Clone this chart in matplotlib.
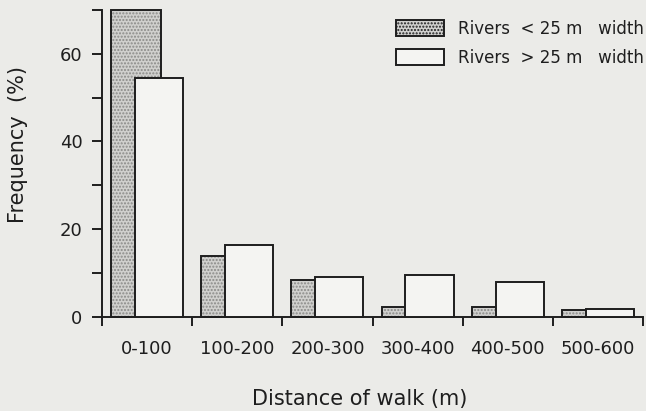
"""Frequency of walk distances for narrow and wide rivers."""
import numpy as np
import matplotlib
matplotlib.use("Agg")
import matplotlib.pyplot as plt
from matplotlib.patches import Patch

# Data
categories = ["0-100", "100-200", "200-300", "300-400", "400-500", "500-600"]
narrow_rivers = [70.0, 13.9, 8.4, 2.1, 2.2, 1.5]   # rivers < 25 m width
wide_rivers = [54.4, 16.4, 9.0, 9.6, 7.9, 1.8]     # rivers > 25 m width

BG = "#ebebe8"
INK = "#1e1e1e"
STIPPLE_FACE = "#d0d0ce"
STIPPLE_DOT = "#8a8a88"
WHITE_FACE = "#f4f4f2"

plt.rcParams["font.family"] = ["DejaVu Sans"]
plt.rcParams["hatch.linewidth"] = 1.0

fig = plt.figure(figsize=(6.46, 4.11), dpi=100, facecolor=BG)
ax = fig.add_axes([102 / 646, 94.3 / 411, 541 / 646, 306.7 / 411])
ax.set_facecolor(BG)

x = np.arange(len(categories))

# Stippled bars: dotted fill first, then the black outline on top
ax.bar(x + 0.1, narrow_rivers, width=0.55, align="edge", color=STIPPLE_FACE,
       edgecolor=STIPPLE_DOT, hatch=".....", linewidth=0, zorder=2,
       clip_on=False)
ax.bar(x + 0.1, narrow_rivers, width=0.55, align="edge", fill=False,
       edgecolor=INK, linewidth=1.4, zorder=3, clip_on=False)

# White bars overlap the stippled ones
ax.bar(x + 0.365, wide_rivers, width=0.535, align="edge", color=WHITE_FACE,
       edgecolor=INK, linewidth=1.4, zorder=4, clip_on=False)

ax.set_xlim(0, len(categories))
ax.set_ylim(0, 70)

# Spines
for side in ["top", "right"]:
    ax.spines[side].set_visible(False)
for side in ["left", "bottom"]:
    ax.spines[side].set_linewidth(1.4)
    ax.spines[side].set_color(INK)

# Y ticks every 10, labels every 20
ax.set_yticks(np.arange(0, 71, 10))
ax.set_yticklabels([str(v) if v % 20 == 0 else "" for v in range(0, 71, 10)])
ax.tick_params(axis="y", length=7, width=1.4, color=INK, labelsize=13,
               labelcolor=INK, pad=7)

# X: category labels at centres, tick marks at the boundaries
ax.set_xticks(x + 0.5)
ax.set_xticklabels(categories)
ax.set_xticks(np.arange(0, len(categories) + 1), minor=True)
ax.tick_params(axis="x", which="major", length=0, labelsize=13,
               labelcolor=INK, pad=17)
ax.tick_params(axis="x", which="minor", length=6.5, width=1.4, color=INK)

ax.set_xlabel("Distance of walk (m)", fontsize=15, color=INK)
ax.xaxis.set_label_coords(0.477, -0.236)
ax.set_ylabel("Frequency  (%)", fontsize=15, color=INK)
ax.yaxis.set_label_coords(-0.137, 0.56)

legend_elements = [
    Patch(facecolor=STIPPLE_FACE, edgecolor=INK, hatch=".....", linewidth=1.4,
          label="Rivers  < 25 m   width"),
    Patch(facecolor=WHITE_FACE, edgecolor=INK, linewidth=1.4,
          label="Rivers  > 25 m   width"),
]
fig.legend(handles=legend_elements, loc="upper left",
           bbox_to_anchor=(396 / 646, 1 - 20 / 411), frameon=False,
           fontsize=12, handlelength=2.9, handleheight=1.1, handletextpad=0.8,
           labelspacing=0.65, borderpad=0, borderaxespad=0, labelcolor=INK)

fig.savefig("out.png", dpi=100, facecolor=BG)
